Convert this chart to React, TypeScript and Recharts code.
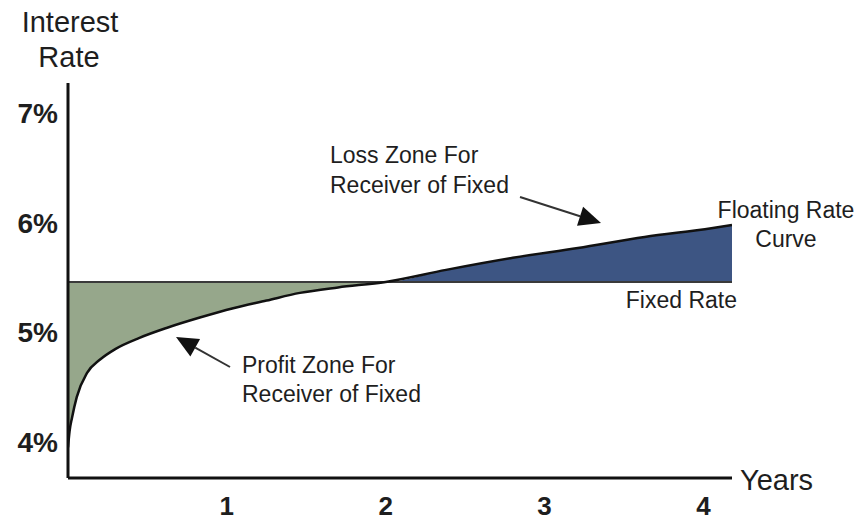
import React from "react";
import { ComposedChart, Area, Line, XAxis, YAxis } from "recharts";

// years along the swap term
const years = [0, 0.01, 0.025, 0.055, 0.12, 0.2, 0.3, 0.45, 0.62, 0.83, 1.04, 1.25, 1.46, 1.7, 2.0, 2.38, 2.8, 3.21, 3.63, 4.05, 4.18];
// floating rate curve (%)
const floatingRate = [3.95, 4.1, 4.22, 4.41, 4.63, 4.75, 4.85, 4.95, 5.04, 5.135, 5.22, 5.29, 5.36, 5.41, 5.46, 5.57, 5.68, 5.77, 5.87, 5.95, 5.98];
// fixed leg of the swap (%)
const fixedRate = 5.46;

const yearTicks = [1, 2, 3, 4];
const rateTicks = [4, 5, 6, 7];

const FONT = "'Liberation Sans', Arial, Helvetica, sans-serif";
const GREEN = "#96a78b";
const BLUE = "#3d5583";
const INK = "#1e1e1e";

const data = years.map((y, i) => ({
  year: y,
  floating: floatingRate[i],
  fixed: fixedRate,
}));

const profitRange = (d: any) => [Math.min(d.floating, d.fixed), d.fixed];
const lossRange = (d: any) => [d.fixed, Math.max(d.floating, d.fixed)];

function RateTick(props: any) {
  const { x, y, payload } = props;
  return (
    <text x={x} y={y} dy="0.35em" textAnchor="end" fontFamily={FONT} fontWeight={700} fontSize={28} fill={INK}>
      {payload.value}%
    </text>
  );
}

function YearTick(props: any) {
  const { x, y, payload } = props;
  return (
    <text x={x} y={y} dy={29} textAnchor="middle" fontFamily={FONT} fontWeight={700} fontSize={26} fill={INK}>
      {payload.value}
    </text>
  );
}

function Arrow({ from, to }: { from: [number, number]; to: [number, number] }) {
  const dx = to[0] - from[0];
  const dy = to[1] - from[1];
  const len = Math.sqrt(dx * dx + dy * dy);
  const ux = dx / len;
  const uy = dy / len;
  const headLen = 22;
  const headW = 10;
  const bx = to[0] - ux * headLen;
  const by = to[1] - uy * headLen;
  const pts = [
    `${to[0]},${to[1]}`,
    `${bx - uy * headW},${by + ux * headW}`,
    `${bx + uy * headW},${by - ux * headW}`,
  ].join(" ");
  return (
    <g>
      <line x1={from[0]} y1={from[1]} x2={bx} y2={by} stroke="#333" strokeWidth={2} />
      <polygon points={pts} fill="#111" />
    </g>
  );
}

function Annotations() {
  const txt = { fontFamily: FONT, fill: INK } as const;
  return (
    <svg width={863} height={521} style={{ position: "absolute", left: 0, top: 0, pointerEvents: "none" }}>
      <text x={70} y={32} textAnchor="middle" fontSize={29} {...txt}>Interest</text>
      <text x={69} y={67} textAnchor="middle" fontSize={29} {...txt}>Rate</text>
      <text x={740} y={490} fontSize={29} {...txt}>Years</text>

      <text x={330} y={163} fontSize={23} {...txt}>Loss Zone For</text>
      <text x={330} y={193} fontSize={23} {...txt}>Receiver of Fixed</text>
      <Arrow from={[520, 197]} to={[601, 223]} />

      <text x={242} y={373} fontSize={23} {...txt}>Profit Zone For</text>
      <text x={242} y={402} fontSize={23} {...txt}>Receiver of Fixed</text>
      <Arrow from={[230, 367]} to={[176, 337]} />

      <text x={786} y={218} textAnchor="middle" fontSize={23} {...txt}>Floating Rate</text>
      <text x={786} y={247} textAnchor="middle" fontSize={23} {...txt}>Curve</text>
      <text x={737} y={308} textAnchor="end" fontSize={23} {...txt}>Fixed Rate</text>
    </svg>
  );
}

export default function App() {
  return (
    <div style={{ position: "absolute", left: 0, top: 0, width: 863, height: 521, background: "#fff" }}>
      <ComposedChart width={863} height={521} data={data} margin={{ top: 83, right: 131, left: 0, bottom: 0 }}>
        <XAxis
          dataKey="year"
          type="number"
          domain={[0, 4.18]}
          ticks={yearTicks}
          allowDataOverflow
          height={43}
          axisLine={{ stroke: "#111", strokeWidth: 3 }}
          tickLine={false}
          tick={<YearTick />}
        />
        <YAxis
          type="number"
          domain={[3.672, 7.274]}
          ticks={rateTicks}
          allowDataOverflow
          width={68}
          tickMargin={4}
          axisLine={{ stroke: "#111", strokeWidth: 3 }}
          tickLine={false}
          tick={<RateTick />}
        />
        <Area
          dataKey={profitRange}
          type="monotone"
          fill={GREEN}
          fillOpacity={1}
          stroke="none"
          isAnimationActive={false}
        />
        <Area
          dataKey={lossRange}
          type="monotone"
          fill={BLUE}
          fillOpacity={1}
          stroke="none"
          isAnimationActive={false}
        />
        <Line dataKey="fixed" type="linear" stroke="#3a3a3a" strokeWidth={2} dot={false} isAnimationActive={false} />
        <Line dataKey="floating" type="monotone" stroke="#111" strokeWidth={2.5} dot={false} isAnimationActive={false} />
      </ComposedChart>
      <Annotations />
    </div>
  );
}
